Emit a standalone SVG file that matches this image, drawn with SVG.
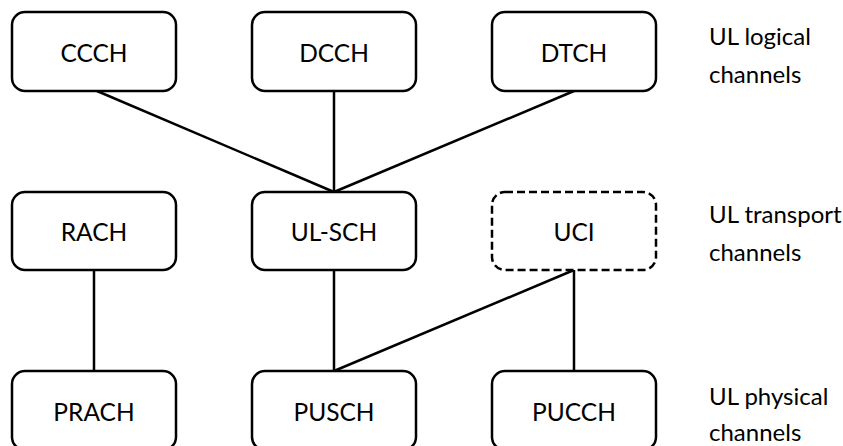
<svg xmlns="http://www.w3.org/2000/svg" width="843" height="446" viewBox="0 0 843 446">
<style>
.box{fill:#fff;stroke:#000;stroke-width:2.5}
.dash{stroke-dasharray:8 4}
.t{font-family:Lato,"Open Sans",sans-serif;font-size:24.5px;fill:#000;text-anchor:middle}
.lbl{font-family:Lato,"Open Sans",sans-serif;font-size:24px;fill:#000}
.ln{stroke:#000;stroke-width:2.5;fill:none}
</style>
<rect width="843" height="446" fill="#fff"/>
<g id="connectors">
<line class="ln" x1="97" y1="91" x2="334" y2="192"/>
<line class="ln" x1="334" y1="91" x2="334" y2="192"/>
<line class="ln" x1="574" y1="91" x2="334" y2="192"/>
<line class="ln" x1="94" y1="270" x2="94" y2="371"/>
<line class="ln" x1="334" y1="270" x2="334" y2="371"/>
<line class="ln" x1="574" y1="270" x2="334" y2="371"/>
<line class="ln" x1="574" y1="270" x2="574" y2="371"/>
</g>
<g id="CCCH"><rect class="box" x="12" y="12" width="164" height="79" rx="13"/><text class="t" x="94" y="62">CCCH</text></g>
<g id="DCCH"><rect class="box" x="252" y="12" width="164" height="79" rx="13"/><text class="t" x="334" y="62">DCCH</text></g>
<g id="DTCH"><rect class="box" x="492" y="12" width="164" height="79" rx="13"/><text class="t" x="574" y="62">DTCH</text></g>
<g id="RACH"><rect class="box" x="12" y="192" width="164" height="78" rx="13"/><text class="t" x="94" y="241">RACH</text></g>
<g id="UL-SCH"><rect class="box" x="252" y="192" width="164" height="78" rx="13"/><text class="t" x="334" y="241">UL-SCH</text></g>
<g id="UCI"><rect class="box dash" x="492" y="192" width="164" height="78" rx="13"/><text class="t" x="574" y="241">UCI</text></g>
<g id="PRACH"><rect class="box" x="12" y="371" width="164" height="79" rx="13"/><text class="t" x="94" y="421">PRACH</text></g>
<g id="PUSCH"><rect class="box" x="252" y="371" width="164" height="79" rx="13"/><text class="t" x="334" y="421">PUSCH</text></g>
<g id="PUCCH"><rect class="box" x="492" y="371" width="164" height="79" rx="13"/><text class="t" x="574" y="421">PUCCH</text></g>
<g id="labels">
<text class="lbl" x="709" y="45">UL logical</text>
<text class="lbl" x="709" y="83">channels</text>
<text class="lbl" x="709" y="223">UL transport</text>
<text class="lbl" x="709" y="261">channels</text>
<text class="lbl" x="709" y="405">UL physical</text>
<text class="lbl" x="709" y="441">channels</text>
</g>
</svg>
